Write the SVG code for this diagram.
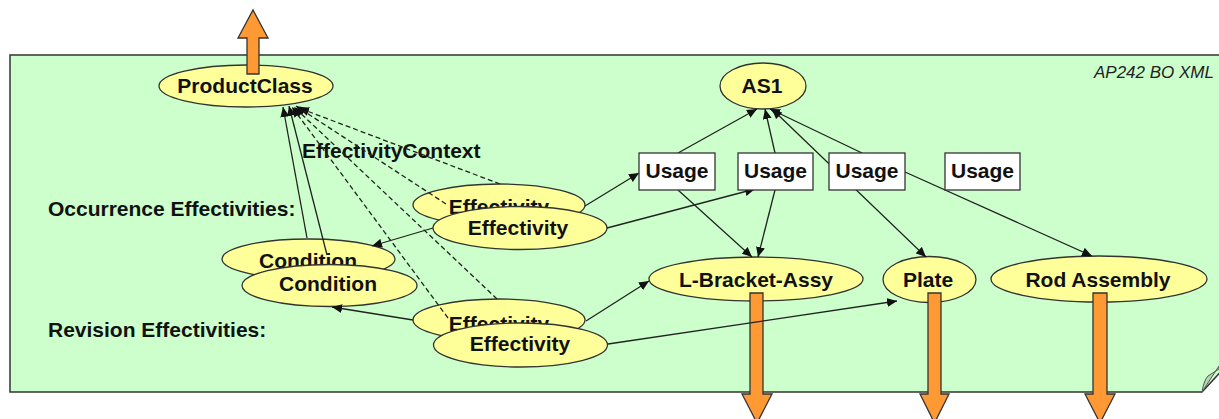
<svg xmlns="http://www.w3.org/2000/svg" width="1219" height="419" viewBox="0 0 1219 419">
<style>
.t{font-family:"Liberation Sans",Arial,sans-serif;font-weight:bold;font-size:21px;fill:#111;text-anchor:middle}
.l{font-family:"Liberation Sans",Arial,sans-serif;font-weight:bold;font-size:21px;fill:#111}
.e{fill:#FFFF99;stroke:#333;stroke-width:1.3}
.b{fill:#FFFFFF;stroke:#333;stroke-width:1.3}
.c{fill:none;stroke:#222;stroke-width:1.3}
.d{fill:none;stroke:#222;stroke-width:1.3;stroke-dasharray:5,3}
.o{fill:#FF9933;stroke:#333;stroke-width:1.3;stroke-linejoin:miter}
</style>
<defs>
<marker id="ah" markerUnits="userSpaceOnUse" markerWidth="11" markerHeight="9" refX="10" refY="4.5" orient="auto-start-reverse">
<path d="M0,0 L10,4.5 L0,9 z" fill="#111"/>
</marker>
</defs>
<g id="page">
<path d="M10,55 H1226 V366 L1202,392 H10 Z" fill="#CCFFCC" stroke="#333" stroke-width="1.5"/>
<path d="M1202,392 Q1204,380 1208,376 L1219,369 L1219,366 Z" fill="#B0D8B4" stroke="#555" stroke-width="1"/>
<text x="1214" y="78" style="font-family:'Liberation Sans',Arial,sans-serif;font-style:italic;font-size:17px;fill:#222;text-anchor:end">AP242 BO XML</text>
</g>
<g id="labels">
<text class="l" x="302" y="158">EffectivityContext</text>
<text class="l" x="48" y="216">Occurrence Effectivities:</text>
<text class="l" x="48" y="337">Revision Effectivities:</text>
</g>
<g id="productclass"><ellipse class="e" cx="246" cy="86" rx="87" ry="21"/><text class="t" x="245" y="93">ProductClass</text></g>
<g id="as1"><ellipse class="e" cx="763" cy="86" rx="43" ry="23"/><text class="t" x="762" y="93">AS1</text></g>
<g id="condition-back"><ellipse class="e" cx="308.5" cy="259" rx="86.5" ry="20"/><text class="t" x="308" y="268">Condition</text></g>
<g id="condition-front"><ellipse class="e" cx="329.5" cy="285.5" rx="87.5" ry="21"/><text class="t" x="328" y="291">Condition</text></g>
<g id="effectivity-occ-back"><ellipse class="e" cx="499" cy="205" rx="86" ry="21"/><text class="t" x="499" y="214">Effectivity</text></g>
<g id="effectivity-occ-front"><ellipse class="e" cx="520" cy="228" rx="87" ry="21.5"/><text class="t" x="518" y="235">Effectivity</text></g>
<g id="effectivity-rev-back"><ellipse class="e" cx="499" cy="320" rx="86" ry="21"/><text class="t" x="499" y="331">Effectivity</text></g>
<g id="effectivity-rev-front"><ellipse class="e" cx="520.5" cy="345" rx="87" ry="22"/><text class="t" x="520" y="351">Effectivity</text></g>
<g id="l-bracket-assy"><ellipse class="e" cx="756" cy="279" rx="107" ry="22"/><text class="t" x="756" y="287">L-Bracket-Assy</text></g>
<g id="plate"><ellipse class="e" cx="929.5" cy="279.5" rx="46.5" ry="23"/><text class="t" x="928" y="287">Plate</text></g>
<g id="rod-assembly"><ellipse class="e" cx="1099" cy="279" rx="108" ry="23"/><text class="t" x="1098" y="287">Rod Assembly</text></g>
<g id="orange-arrows">
<polygon class="o" points="247,74 247,38 238,38 253,10 268,38 259,38 259,74"/>
<polygon class="o" points="750,293 763,293 763,394 772,394 757,423 742,394 750,394"/>
<polygon class="o" points="928,293 941,293 941,394 949,394 934.5,423 920,394 928,394"/>
<polygon class="o" points="1093,293 1107,293 1107,394 1115,394 1100,423 1085,394 1093,394"/>
</g>
<g id="connectors">
<line class="c" x1="307" y1="238" x2="283" y2="107" marker-end="url(#ah)"/>
<line class="c" x1="327" y1="255" x2="289" y2="106" marker-end="url(#ah)"/>
<line class="d" x1="500" y1="184" x2="299" y2="108" marker-end="url(#ah)"/>
<line class="d" x1="446" y1="204" x2="296" y2="106" marker-end="url(#ah)"/>
<line class="d" x1="497" y1="299" x2="294" y2="107" marker-end="url(#ah)"/>
<line class="d" x1="448" y1="318" x2="292" y2="107" marker-end="url(#ah)"/>
<line class="c" x1="433" y1="228" x2="372" y2="246" marker-end="url(#ah)"/>
<line class="c" x1="413" y1="320" x2="332" y2="307" marker-end="url(#ah)"/>
<line class="c" x1="585" y1="206" x2="639" y2="173" marker-end="url(#ah)"/>
<line class="c" x1="607" y1="228" x2="755" y2="189" marker-end="url(#ah)"/>
<line class="c" x1="586" y1="321" x2="649" y2="281" marker-end="url(#ah)"/>
<line class="c" x1="608" y1="344" x2="897" y2="301" marker-end="url(#ah)"/>
<line class="c" x1="678" y1="153" x2="757" y2="109" marker-end="url(#ah)"/>
<line class="c" x1="775" y1="153" x2="765" y2="109" marker-end="url(#ah)"/>
<line class="c" x1="862" y1="153" x2="770" y2="109" marker-end="url(#ah)"/>
<line class="c" x1="926" y1="257" x2="772" y2="109" marker-start="url(#ah)" marker-end="url(#ah)"/>
<line class="c" x1="678" y1="190" x2="752" y2="257" marker-end="url(#ah)"/>
<line class="c" x1="775" y1="190" x2="758" y2="257" marker-end="url(#ah)"/>
<line class="c" x1="905" y1="172" x2="1092" y2="256" marker-end="url(#ah)"/>
</g>
<g id="usage1"><rect class="b" x="639" y="153" width="76" height="37"/><text class="t" x="677" y="178">Usage</text></g>
<g id="usage2"><rect class="b" x="738" y="153" width="75" height="37"/><text class="t" x="775.5" y="178">Usage</text></g>
<g id="usage3"><rect class="b" x="829" y="153" width="76" height="37"/><text class="t" x="867" y="178">Usage</text></g>
<g id="usage4"><rect class="b" x="945" y="153" width="75" height="37"/><text class="t" x="982.5" y="178">Usage</text></g>
</svg>
